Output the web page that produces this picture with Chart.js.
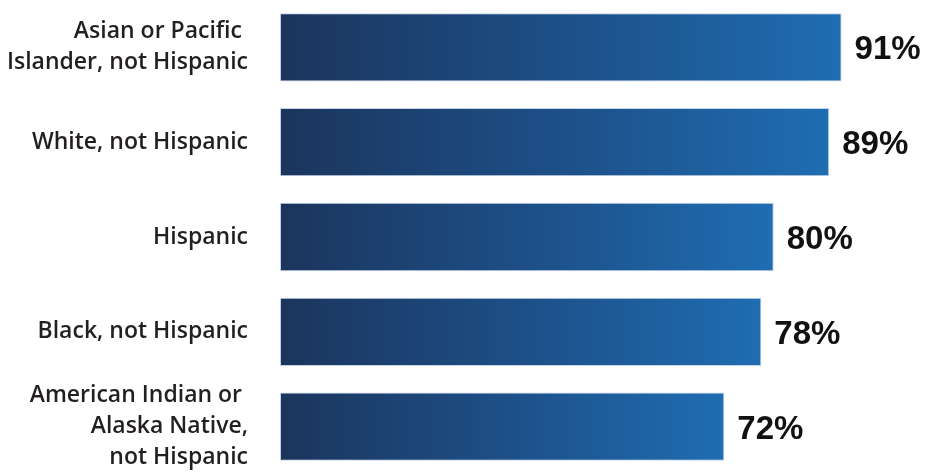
<!DOCTYPE html>
<html>
<head>
<meta charset="utf-8">
<script src="https://cdn.jsdelivr.net/npm/chart.js@4"></script>
<style>
  html, body { margin: 0; padding: 0; background: #fff; overflow: hidden; }
  canvas { display: block; }
</style>
</head>
<body>
<canvas id="myChart" width="928" height="474"></canvas>
<script>
var groups = [
  ["Asian or Pacific ", "Islander, not Hispanic"],
  "White, not Hispanic",
  "Hispanic",
  "Black, not Hispanic",
  ["American Indian or ", "Alaska Native,", "not Hispanic"]
];
var shares = [91, 89, 80, 78, 72];

// each bar fades from navy at the axis to mid blue at its own tip
function barGradient(context) {
  const chart = context.chart;
  if (!chart.chartArea) return "#1d4c86";
  const x = chart.scales.x;
  const left = x.getPixelForValue(0);
  const right = x.getPixelForValue(context.raw);
  const g = chart.ctx.createLinearGradient(left, 0, right, 0);
  g.addColorStop(0, "#1b355d");
  g.addColorStop(0.5, "#1d4f87");
  g.addColorStop(1, "#1f6db2");
  return g;
}

const valueLabels = {
  id: "valueLabels",
  afterDatasetsDraw(chart) {
    const ctx = chart.ctx;
    const meta = chart.getDatasetMeta(0);
    ctx.save();
    ctx.font = "bold 33px 'Liberation Sans', Arial, sans-serif";
    ctx.fillStyle = "#111";
    ctx.textAlign = "left";
    ctx.textBaseline = "middle";
    meta.data.forEach(function (bar, i) {
      ctx.fillText(shares[i] + "%", bar.x + 13, bar.y + 3);
    });
    ctx.restore();
  }
};

new Chart("myChart", {
  type: "bar",
  data: {
    labels: groups,
    datasets: [{
      data: shares,
      backgroundColor: barGradient,
      borderColor: "rgba(150,175,210,0.55)",
      borderWidth: 1,
      borderSkipped: false,
      barPercentage: 0.72,
      categoryPercentage: 1
    }]
  },
  options: {
    indexAxis: "y",
    responsive: false,
    animation: false,
    layout: { padding: 0 },
    plugins: {
      legend: { display: false },
      tooltip: { enabled: false }
    },
    scales: {
      x: {
        display: false,
        min: 0,
        max: 105
      },
      y: {
        afterFit: function (scale) {
          // fixed label column; tall multi-line labels must not shrink the bars
          scale.width = 280;
          scale.paddingTop = 0;
          scale.paddingBottom = 0;
        },
        grid: { display: false },
        border: { display: false },
        ticks: {
          autoSkip: false,
          color: "#231f20",
          padding: 24,
          font: { family: "'Open Sans', sans-serif", size: 23, weight: "600", lineHeight: 1.35 }
        }
      }
    }
  },
  plugins: [valueLabels]
});
</script>
</body>
</html>
